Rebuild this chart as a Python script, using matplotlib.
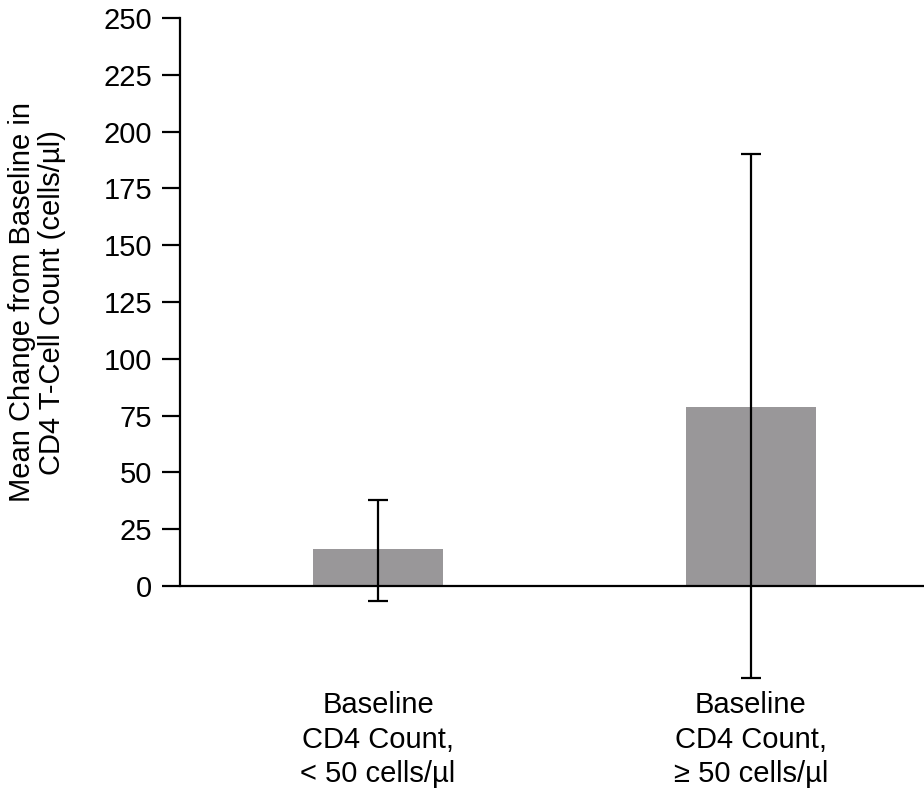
import numpy as np
import matplotlib.pyplot as plt

plt.rcParams['font.family'] = ['Liberation Sans', 'DejaVu Sans']

# data
groups = ['Baseline\nCD4 Count,\n< 50 cells/\u00b5l', 'Baseline\nCD4 Count,\n\u2265 50 cells/\u00b5l']
means = [16.3, 78.8]
err_low = [16.3 + 6.6, 78.8 + 40.5]
err_high = [37.9 - 16.3, 190.1 - 78.8]
yticks = np.arange(0, 251, 25)

fig = plt.figure(figsize=(9.24, 7.88), dpi=100)
ax = fig.add_axes([0.1948, 0.1266, 0.8052, 0.8505])

x = np.arange(len(groups))
ax.bar(x, means, width=0.351, color='#999799', zorder=1)
ax.errorbar(x, means, yerr=[err_low, err_high], fmt='none', ecolor='black',
            elinewidth=1.6, capsize=7.5, capthick=1.6, zorder=3)
ax.axhline(0, color='black', lw=1.6, zorder=2)

ax.set_xlim(-0.531, 1.464)
ax.set_ylim(-45, 250)

for s in ['top', 'right', 'bottom']:
    ax.spines[s].set_visible(False)
ax.spines['left'].set_bounds(0, 250)
ax.spines['left'].set_linewidth(1.6)

ax.set_yticks(yticks)
ax.tick_params(axis='y', length=13, width=1.6, pad=7, labelsize=21)
ax.set_xticks(x)
ax.set_xticklabels(groups, fontsize=21, linespacing=1.3)
ax.tick_params(axis='x', length=0, pad=2)

ax.set_ylabel('Mean Change from Baseline in\nCD4 T-Cell Count (cells/\u00b5l)',
              fontsize=21, linespacing=1.1)
ax.yaxis.set_label_coords(-0.153, 0.576)

fig.savefig('out.png', dpi=100)
